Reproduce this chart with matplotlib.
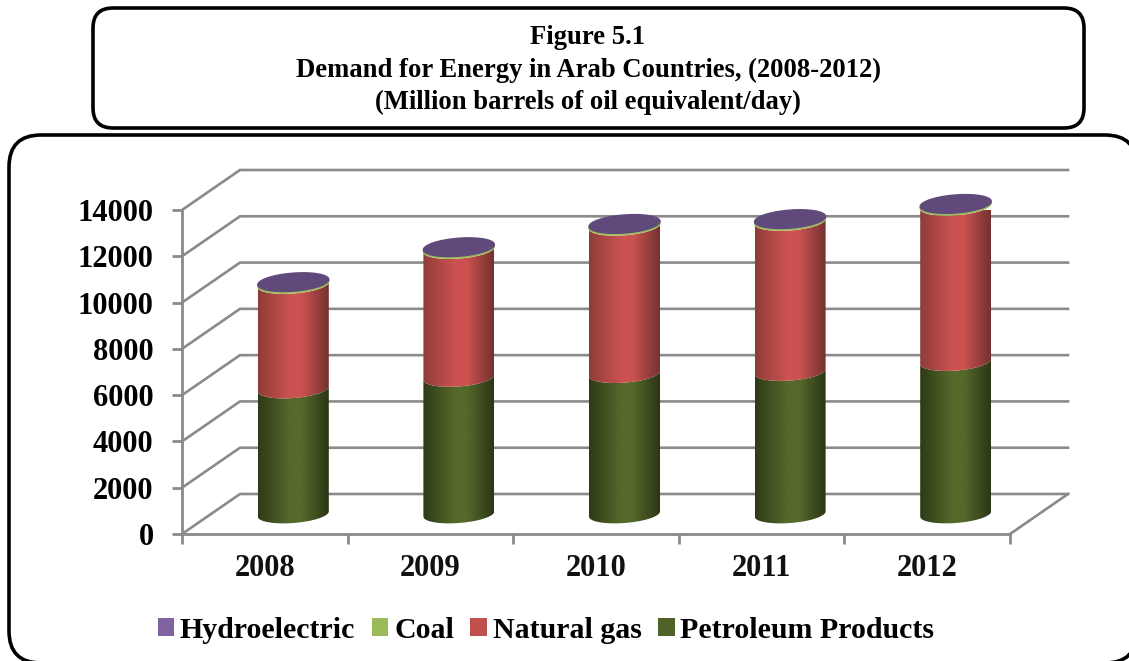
import numpy as np
import matplotlib
matplotlib.use("Agg")
import matplotlib.pyplot as plt
from matplotlib.colors import LinearSegmentedColormap
from matplotlib.patches import FancyBboxPatch, Patch, Polygon

years = ["2008", "2009", "2010", "2011", "2012"]
petroleum = [5400, 5900, 6065, 6155, 6585]
natural_gas = [4513, 5523, 6362, 6482, 6707]
coal = [45, 45, 45, 45, 45]
hydro = [20, 20, 20, 20, 20]
y_ticks = [0, 2000, 4000, 6000, 8000, 10000, 12000, 14000]
title_lines = ["Figure 5.1", "Demand for Energy in Arab Countries, (2008-2012)",
               "(Million barrels of oil equivalent/day)"]
legend_labels = ["Hydroelectric", "Coal", "Natural gas", "Petroleum Products"]

W, H = 1129, 661
plt.rcParams["font.family"] = ["Liberation Serif", "DejaVu Serif"]
plt.rcParams["font.weight"] = "bold"
fig = plt.figure(figsize=(W / 100, H / 100), dpi=100)

# frame boxes are drawn in pixels on a background axes
bg = fig.add_axes([0, 0, 1, 1])
bg.set_xlim(0, W)
bg.set_ylim(H, 0)
bg.axis("off")
bg.add_patch(FancyBboxPatch((93, 8), 991, 120, boxstyle="round,pad=0,rounding_size=20",
                            fc="white", ec="black", lw=2.6))
bg.add_patch(FancyBboxPatch((9, 135), 1128, 528, boxstyle="round,pad=0,rounding_size=32",
                            fc="white", ec="black", lw=2.6))
for line, py in zip(title_lines, [38, 70, 102]):
    bg.text(588, py, line, ha="center", va="center", fontsize=19.2, color="black")

# front plane of the 3d box
left, right, bottom, top = 182, 1010, 534, 210
ax = fig.add_axes([left / W, 1 - bottom / H, (right - left) / W, (bottom - top) / H])
ax.patch.set_alpha(0)
ax.set_xlim(0, 5)
ax.set_ylim(0, 14000)

px_x = 5 / (right - left)
px_y = 14000 / (bottom - top)
depth_x = 58 * px_x
depth_y = 40 * px_y
grid_col = "#8a8a8a"

for v in y_ticks:
    ax.plot([0, depth_x, 5 + depth_x], [v, v + depth_y, v + depth_y], color=grid_col,
            lw=1.9, clip_on=False, zorder=1, solid_joinstyle="miter")
ax.plot([5, 5 + depth_x], [0, depth_y], color=grid_col, lw=1.9, clip_on=False, zorder=1)

for s in ["top", "right"]:
    ax.spines[s].set_visible(False)
for s in ["left", "bottom"]:
    ax.spines[s].set_color(grid_col)
    ax.spines[s].set_linewidth(2)
ax.set_yticks(y_ticks)
ax.set_xticks(range(6))
ax.set_xticklabels([])
ax.tick_params(axis="both", length=7, width=2, color=grid_col)
ax.tick_params(axis="y", labelsize=22, pad=13.5)
for i, yr in enumerate(years):
    ax.text(i + 0.5, -1500, yr, ha="center", va="center", fontsize=22, color="#111111")


def shade(edge_l, mid, edge_r):
    return LinearSegmentedColormap.from_list(
        "c", [(0, edge_l), (0.45, mid), (0.62, mid), (1, edge_r)])


half_w = 35.5 * px_x
cx_shift = depth_x / 2 - 0.5 * px_x
base_y = depth_y / 2
minor = 9 * px_y
tilt = 2.6 * px_y


def arc(cx, y0, lower):
    t = np.linspace(np.pi, 2 * np.pi, 50) if lower else np.linspace(0, np.pi, 50)
    xs = cx + half_w * np.cos(t)
    ys = y0 + minor * np.sin(t) + tilt * np.cos(t)
    return xs, ys


def segment(cx, y0, y1, cmap, z):
    bx, by = arc(cx, y0, True)
    tx, ty = arc(cx, y1, True)
    pts = np.column_stack([np.r_[bx, tx[::-1]], np.r_[by, ty[::-1]]])
    poly = Polygon(pts, closed=True, fc="none", ec="none", transform=ax.transData)
    ax.add_patch(poly)
    grad = np.linspace(0, 1, 128).reshape(1, -1)
    im = ax.imshow(grad, extent=[cx - half_w, cx + half_w, y0 - 2 * minor, y1 + 2 * minor],
                   aspect="auto", cmap=cmap, zorder=z, interpolation="bilinear")
    im.set_clip_path(poly)
    im.set_clip_on(True)


green = shade("#2e3a16", "#55692b", "#2b3615")
red = shade("#8f3c39", "#cb5250", "#733230")
for i in range(len(years)):
    cx = i + 0.5 + cx_shift
    y0 = base_y
    y1 = y0 + petroleum[i]
    y2 = y1 + natural_gas[i]
    y3 = y2 + coal[i]
    y4 = y3 + hydro[i]
    z = 3
    segment(cx, y0, y1, green, z)
    segment(cx, y1, y2, red, z + 1)
    # coal rim peeks out under the hydro cap
    lx, ly = arc(cx, y3 - 10, True)
    ux, uy = arc(cx, y3 - 10, False)
    ax.fill(np.r_[lx, ux], np.r_[ly, uy], color="#9bbb59", zorder=z + 2, clip_on=False)
    lx, ly = arc(cx, y4 + 40, True)
    ux, uy = arc(cx, y4 + 40, False)
    ax.fill(np.r_[lx, ux], np.r_[ly, uy], color="#604a7b", zorder=z + 3, clip_on=False)

ax.set_xlim(0, 5)
ax.set_ylim(0, 14000)

handles = [Patch(fc=c, ec="none") for c in ["#8064a2", "#9bbb59", "#c0504d", "#4f6228"]]
leg = bg.legend(handles, legend_labels, ncol=4, frameon=False, loc="center",
                bbox_to_anchor=(546, 630), bbox_transform=bg.transData,
                prop={"size": 21.5, "weight": "bold"}, handlelength=0.55, handleheight=0.55,
                handletextpad=0.2, columnspacing=0.55)

fig.savefig("out.png", dpi=100)
